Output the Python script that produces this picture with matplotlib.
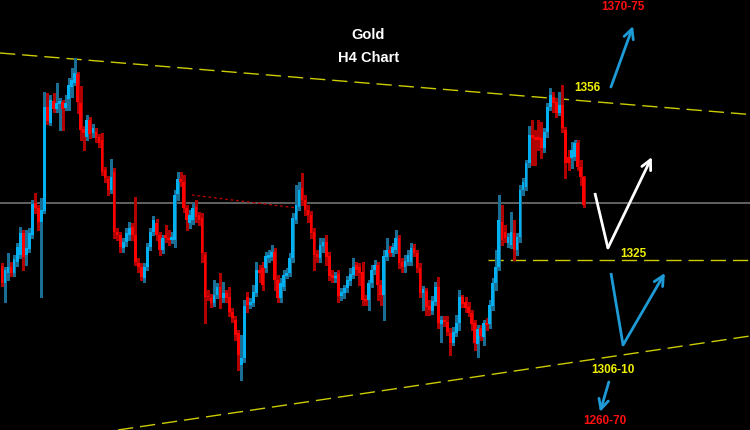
import matplotlib
matplotlib.use("Agg")
import matplotlib.pyplot as plt
import numpy as np

# ---- Data (H4 gold candles) ----
opens = [1323.8,1320.4,1322.4,1323.6,1322.4,1324.6,1326.0,1330.4,1326.0,1327.2,
         1330.0,1336.4,1335.4,1332.6,1334.8,1355.6,1352.4,1356.8,1355.2,1356.2,
         1356.6,1355.4,1357.2,1359.6,1360.4,1362.2,1356.4,1351.2,1349.6,1353.0,
         1350.4,1350.6,1349.6,1349.0,1343.0,1341.2,1339.0,1342.6,1330.6,1330.0,
         1327.4,1328.6,1330.0,1331.6,1330.0,1324.4,1323.6,1321.4,1323.6,1327.6,
         1330.6,1332.4,1330.0,1327.0,1330.0,1329.4,1329.0,1329.0,1338.2,1341.2,
         1340.6,1335.4,1332.4,1333.0,1335.6,1334.0,1333.4,1326.0,1317.8,1317.4,
         1316.4,1318.0,1319.6,1317.4,1318.4,1317.6,1314.6,1313.0,1310.4,1304.0,
         1305.4,1317.6,1316.0,1316.4,1318.4,1323.0,1323.4,1323.4,1325.4,1325.6,
         1326.6,1321.0,1317.4,1319.6,1321.8,1322.4,1325.4,1333.0,1335.6,1339.4,
         1337.0,1335.0,1334.0,1330.6,1326.2,1325.4,1327.8,1328.6,1325.8,1322.0,
         1321.4,1322.2,1317.8,1318.4,1319.4,1320.8,1322.0,1324.0,1323.6,1322.6,
         1317.2,1317.0,1320.4,1323.0,1324.0,1320.0,1318.0,1325.6,1327.0,1326.4,
         1327.0,1329.4,1324.6,1323.6,1324.6,1324.6,1327.4,1326.4,1323.4,1318.4,
         1318.8,1315.8,1314.8,1316.6,1319.6,1312.2,1313.0,1312.6,1310.4,1308.4,
         1310.4,1312.4,1317.6,1316.6,1315.6,1314.4,1312.4,1308.2,1311.4,1309.6,
         1312.4,1312.2,1315.8,1320.4,1323.6,1332.6,1330.6,1328.4,1328.0,1330.4,
         1327.0,1329.6,1339.0,1339.6,1344.4,1350.0,1349.6,1349.6,1349.4,1347.4,
         1350.6,1355.6,1357.6,1356.6,1354.4,1356.0,1351.0,1345.6,1345.4,1345.6,
         1348.4,1343.6,1341.6]
closes = [1320.4,1323.0,1323.6,1322.4,1325.2,1327.6,1330.4,1325.6,1327.4,1330.4,
          1336.2,1335.4,1332.6,1335.0,1355.6,1352.8,1357.0,1355.2,1356.4,1356.8,
          1355.2,1356.4,1360.0,1361.0,1362.4,1356.6,1351.0,1350.4,1353.0,1350.2,
          1351.4,1349.4,1348.4,1342.6,1341.4,1339.0,1341.6,1330.6,1330.0,1327.6,
          1328.6,1330.4,1331.4,1330.0,1324.6,1323.6,1321.6,1323.6,1327.6,1330.6,
          1333.0,1330.0,1327.0,1329.4,1329.4,1329.0,1329.6,1338.0,1341.2,1340.6,
          1335.4,1333.0,1334.0,1335.4,1333.6,1333.0,1326.4,1317.6,1317.6,1316.4,
          1318.0,1319.6,1317.4,1318.4,1317.4,1314.6,1313.4,1310.0,1306.0,1305.4,
          1315.8,1316.0,1316.6,1318.6,1323.0,1322.4,1320.0,1325.8,1326.0,1326.6,
          1321.0,1317.4,1320.4,1322.0,1322.4,1325.4,1333.4,1336.0,1339.0,1337.0,
          1335.0,1334.0,1330.4,1326.0,1325.6,1328.0,1328.6,1325.6,1321.8,1321.4,
          1321.8,1317.8,1318.6,1319.4,1321.0,1322.2,1323.6,1323.0,1322.4,1317.0,
          1316.8,1320.4,1323.0,1324.0,1320.0,1318.0,1325.8,1327.0,1326.4,1327.6,
          1329.4,1324.4,1323.6,1324.8,1326.0,1327.4,1326.4,1323.4,1318.4,1319.2,
          1315.6,1315.0,1316.8,1319.6,1312.4,1313.0,1312.6,1310.6,1308.4,1310.6,
          1312.4,1317.6,1316.2,1315.4,1314.4,1312.2,1308.4,1311.2,1309.8,1312.4,
          1312.0,1316.0,1320.4,1323.6,1333.0,1329.0,1329.4,1329.6,1330.6,1327.0,
          1329.6,1339.0,1340.6,1344.4,1350.0,1349.4,1349.0,1349.0,1347.4,1350.6,
          1355.6,1358.0,1356.4,1354.4,1356.0,1351.4,1344.4,1344.4,1347.0,1348.4,
          1343.6,1341.6,1336.0]
highs = [1324.4,1323.6,1326.4,1324.6,1326.0,1328.4,1331.6,1331.0,1331.0,1331.4,
         1337.0,1338.4,1336.0,1337.4,1358.6,1358.4,1358.0,1358.4,1360.4,1357.4,
         1357.0,1358.0,1361.4,1363.4,1365.4,1362.6,1359.8,1351.8,1354.0,1353.6,
         1352.2,1351.4,1350.2,1350.4,1343.6,1341.8,1345.2,1343.4,1331.4,1330.6,
         1329.4,1331.4,1332.6,1332.4,1337.6,1325.4,1324.4,1324.4,1328.4,1331.4,
         1333.8,1333.2,1330.6,1330.0,1332.0,1331.0,1330.6,1339.0,1342.6,1342.6,
         1342.0,1336.0,1335.0,1336.4,1337.0,1334.6,1334.4,1326.6,1319.0,1318.2,
         1321.0,1320.4,1322.4,1320.6,1319.0,1319.6,1315.4,1313.8,1311.0,1310.0,
         1317.0,1318.6,1317.4,1320.0,1324.6,1324.0,1324.6,1326.6,1327.0,1328.0,
         1327.4,1322.0,1321.4,1323.0,1323.4,1326.4,1334.4,1340.0,1340.6,1342.4,
         1338.0,1336.0,1334.8,1331.4,1327.0,1329.4,1329.4,1330.0,1326.6,1323.0,
         1322.6,1323.0,1319.4,1320.0,1321.8,1323.4,1325.4,1324.6,1324.4,1324.6,
         1318.0,1321.0,1324.0,1325.0,1324.6,1321.0,1327.0,1329.4,1327.8,1328.4,
         1331.0,1330.0,1325.4,1326.0,1327.0,1328.4,1328.2,1327.0,1324.4,1319.8,
         1319.4,1317.0,1317.8,1320.6,1321.6,1313.8,1313.8,1313.8,1311.4,1311.6,
         1314.0,1319.0,1318.0,1317.6,1316.6,1315.0,1313.0,1312.0,1312.0,1313.0,
         1313.4,1317.0,1321.4,1327.0,1338.0,1336.0,1332.0,1330.4,1334.6,1333.0,
         1330.4,1340.0,1341.4,1345.0,1351.8,1353.0,1351.0,1353.0,1352.6,1351.4,
         1356.4,1359.4,1358.6,1357.4,1358.6,1360.0,1351.6,1347.0,1348.6,1349.0,
         1349.0,1345.0,1341.8]
lows = [1319.8,1316.6,1321.0,1321.8,1321.8,1323.8,1325.4,1323.0,1324.0,1326.6,
        1329.4,1334.4,1331.0,1317.6,1334.4,1352.2,1352.0,1354.6,1354.6,1351.0,
        1351.0,1355.0,1355.0,1357.6,1360.0,1354.4,1349.0,1347.0,1349.0,1349.4,
        1349.6,1348.6,1347.6,1342.0,1340.6,1338.0,1338.4,1329.4,1329.0,1326.6,
        1326.6,1327.8,1329.0,1329.0,1324.0,1322.6,1321.0,1320.6,1323.0,1327.0,
        1330.0,1329.0,1326.0,1326.4,1328.6,1328.0,1328.4,1327.6,1337.0,1339.8,
        1334.6,1331.0,1331.4,1332.2,1332.6,1332.0,1324.6,1312.4,1317.0,1315.6,
        1315.8,1317.4,1315.4,1316.6,1316.6,1313.8,1312.6,1309.0,1303.0,1301.0,
        1304.6,1314.6,1315.4,1315.8,1317.8,1320.6,1319.0,1322.6,1324.6,1325.0,
        1319.0,1316.6,1316.6,1319.0,1321.4,1321.8,1324.6,1332.4,1335.0,1336.0,
        1334.0,1332.6,1329.4,1323.0,1324.6,1324.6,1326.6,1324.0,1321.0,1320.6,
        1320.6,1316.6,1317.0,1317.4,1318.6,1320.0,1321.4,1322.0,1320.0,1316.0,
        1316.0,1315.0,1319.6,1322.2,1317.0,1316.0,1313.0,1325.0,1325.8,1325.8,
        1326.4,1323.4,1322.6,1322.6,1324.0,1324.0,1325.8,1322.6,1317.6,1315.0,
        1314.0,1314.0,1314.2,1316.0,1311.4,1308.6,1311.8,1310.0,1306.0,1308.0,
        1309.8,1311.0,1315.6,1314.6,1313.8,1311.0,1307.0,1305.6,1309.0,1308.0,
        1311.0,1311.4,1315.0,1319.0,1323.0,1328.0,1328.6,1327.6,1327.4,1325.0,
        1326.0,1328.6,1338.0,1339.0,1343.6,1344.0,1344.0,1347.0,1345.4,1346.6,
        1349.6,1355.0,1354.6,1353.6,1354.0,1350.6,1341.4,1343.0,1343.4,1345.0,
        1343.0,1340.0,1335.6]

# reference levels
level_res = 1356
level_mid = 1325
level_sup = "1306-10"
now_line = 1336.4
upper_trend = [1366.4, 1354.1]   # price at left / right edge
lower_trend = [1291.0, 1309.8]

BLUE = "#00b0f0"
RED = "#ff0000"
BLUE_W = "#1b6e93"
RED_W = "#b00000"
YEL = "#cccc00"

fig = plt.figure(figsize=(7.5, 4.3), dpi=100, facecolor="black")
ax = fig.add_axes([0, 0, 1, 1])
ax.set_facecolor("black")

n = len(closes)
x = np.arange(n)
o = np.array(opens); c = np.array(closes); h = np.array(highs); l = np.array(lows)
up = c >= o

x_left, x_right = -0.66, 246.9
ax.set_xlim(x_left, x_right)
ax.set_ylim(1291, 1377)

# gray current-price line
ax.axhline(now_line, color="#6a6a6a", lw=1.3, zorder=1)

# trend lines
dash = (0, (11, 5))
ax.plot([x_left, x_right], upper_trend, color=YEL, lw=1.0, ls=dash, zorder=1)
ax.plot([38.3, x_right], lower_trend, color=YEL, lw=1.0, ls=dash, zorder=1)
ax.plot([160.4, x_right], [level_mid, level_mid], color=YEL, lw=1.0, ls=dash, zorder=1)

# dotted red line
ax.plot([62.7, 97.4], [1338.0, 1335.4], color="#b00000", lw=1.0, ls=(0, (2, 2)), zorder=1)

# wicks
ax.vlines(x[up], l[up], h[up], color=BLUE_W, lw=1.0, zorder=2, antialiased=False)
ax.vlines(x[~up], l[~up], h[~up], color=RED_W, lw=1.0, zorder=2, antialiased=False)

# bodies
body = np.maximum(np.abs(c - o), 0.25)
bottom = np.minimum(o, c)
ax.bar(x[up], body[up], bottom=bottom[up], width=0.9, color=BLUE, linewidth=0, zorder=3,
       antialiased=False)
ax.bar(x[~up], body[~up], bottom=bottom[~up], width=0.9, color=RED, linewidth=0, zorder=3,
       antialiased=False)

# titles
ax.text(0.491, 0.919, "Gold", transform=ax.transAxes, color="white", ha="center", va="center",
        fontsize=10.5, fontweight="bold", family="Liberation Sans")
ax.text(0.491, 0.865, "H4 Chart", transform=ax.transAxes, color="white", ha="center", va="center",
        fontsize=10.5, fontweight="bold", family="Liberation Sans")

lab = dict(fontsize=8.5, fontweight="bold", family="Liberation Sans", ha="center", va="center")
ax.text(193.1, 1359.4, str(level_res), color="#f0f000", **lab)
ax.text(208.3, 1326.2, str(level_mid), color="#f0f000", **lab)
ax.text(201.7, 1303.0, level_sup, color="#f0f000", **lab)
ax.text(205.0, 1375.6, "1370-75", color="#ff1010", **lab)
ax.text(199.0, 1292.8, "1260-70", color="#ff1010", **lab)

ARB = "#1e9bd7"
arrow = dict(arrowstyle="->,head_length=0.7,head_width=0.35", lw=2.0, shrinkA=0, shrinkB=0)

# blue arrow up (top)
ax.annotate("", xy=(208.3, 1371.8), xytext=(201.0, 1359.6),
            arrowprops=dict(color=ARB, **arrow))
# white V
ax.plot([195.7, 200.0], [1338.4, 1327.4], color="white", lw=2.0, solid_capstyle="butt")
ax.annotate("", xy=(214.5, 1345.6), xytext=(200.0, 1327.4),
            arrowprops=dict(color="white", **arrow))
# blue V
ax.plot([201.0, 205.0], [1322.4, 1308.0], color=ARB, lw=2.0, solid_capstyle="butt")
ax.annotate("", xy=(218.8, 1322.4), xytext=(205.0, 1308.0),
            arrowprops=dict(color=ARB, **arrow))
# blue arrow down
ax.annotate("", xy=(197.4, 1294.6), xytext=(200.3, 1300.6),
            arrowprops=dict(color=ARB, **arrow))

ax.axis("off")
fig.savefig("out.png", dpi=100, facecolor="black")
